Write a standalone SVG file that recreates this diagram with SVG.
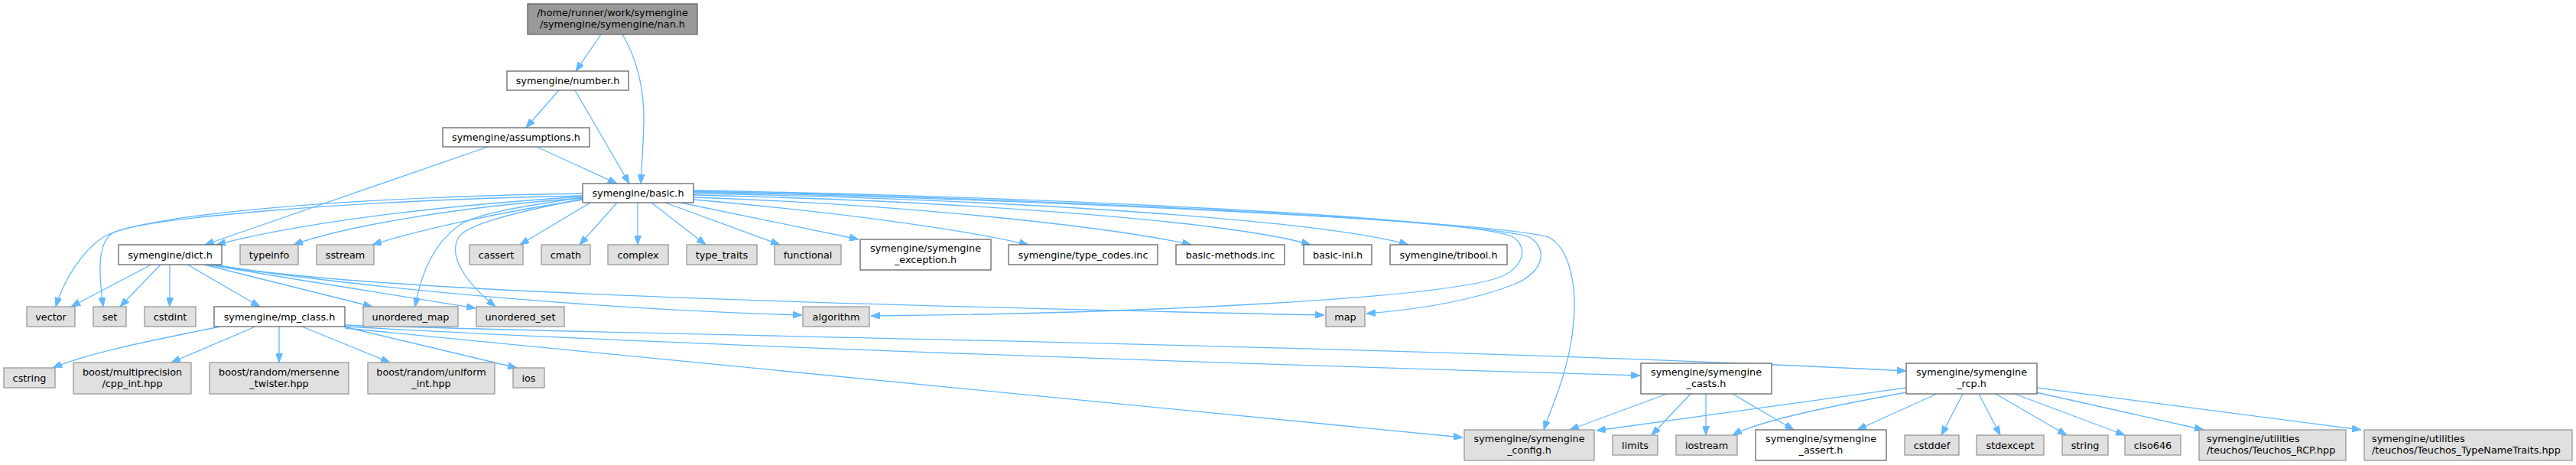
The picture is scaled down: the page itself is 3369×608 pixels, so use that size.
<svg xmlns="http://www.w3.org/2000/svg" width="3369" height="608" viewBox="0 0 3369 608">
<defs>
<style>
.n rect{fill:#ffffff;stroke:#666666;stroke-width:1.3}
.g rect{fill:#e0e0e0;stroke:#999999;stroke-width:1.3}
.r rect{fill:#999999;stroke:#666666;stroke-width:1.3}
text{font-family:"DejaVu Sans","Liberation Sans",sans-serif;font-size:12.8px;fill:#000000;text-anchor:middle}
text.l{text-anchor:start}
#edges path{fill:none;stroke:#63b8ff;stroke-width:1.3;marker-end:url(#arr)}
</style>
<marker id="arr" markerUnits="userSpaceOnUse" markerWidth="12" markerHeight="9" refX="12" refY="4.5" orient="auto">
<path d="M0,0 L12,4.5 L0,9 z" fill="#63b8ff" stroke="#63b8ff" stroke-width="1"/>
</marker>
</defs>
<rect width="3369" height="608" fill="#ffffff"/>
<g id="edges">
<path d="M786,45 L753,93"/>
<path d="M814,45 C832,75 843,115 842,160 C841,195 839,220 838,240"/>
<path d="M731,118 L688,167"/>
<path d="M752,118 L823,240"/>
<path d="M638,192 L268,320"/>
<path d="M702,192 L807,240"/>
<path d="M763,257 C560,270 390,292 283,320"/>
<path d="M763,259 C600,270 450,296 384,320"/>
<path d="M763,261 C660,276 550,300 487,320"/>
<path d="M772,265 L680,320"/>
<path d="M807,265 L758,320"/>
<path d="M834,265 L834,320"/>
<path d="M852,265 L923,320"/>
<path d="M870,265 L1020,320"/>
<path d="M890,265 L1123,313"/>
<path d="M907,261 C1100,278 1260,300 1345,320"/>
<path d="M907,258 C1200,268 1460,298 1558,320"/>
<path d="M907,255 C1300,264 1620,292 1714,320"/>
<path d="M907,253 C1350,261 1740,290 1842,320"/>
<path d="M763,253 C450,258 190,280 135,310 C105,330 82,370 73,401"/>
<path d="M763,256 C450,262 200,285 150,303 C128,315 128,350 135,401"/>
<path d="M763,258 C680,270 620,280 600,295 C565,320 550,360 543,401"/>
<path d="M763,260 C660,280 610,295 600,310 C585,335 610,370 648,401"/>
<path d="M907,249 C1400,258 1900,285 1975,308 C2000,320 1995,350 1960,363 C1880,390 1500,410 1139,413"/>
<path d="M907,250 C1400,260 1950,290 2000,310 C2025,325 2020,355 1980,372 C1920,395 1850,405 1787,410"/>
<path d="M907,251 C1400,262 1950,290 2025,310 C2055,325 2062,380 2058,420 C2054,480 2030,530 2019,562"/>
<path d="M198,346 L93,401"/>
<path d="M210,346 L157,401"/>
<path d="M222,346 L222,401"/>
<path d="M245,346 L340,401"/>
<path d="M267,346 L487,401"/>
<path d="M272,346 C400,368 520,386 622,403"/>
<path d="M276,346 C500,380 800,405 1049,412"/>
<path d="M280,346 C450,378 1000,397 1732,412"/>
<path d="M288,427 C200,445 120,460 69,481"/>
<path d="M334,427 L224,474"/>
<path d="M365,427 L365,474"/>
<path d="M395,427 L510,474"/>
<path d="M449,427 L676,481"/>
<path d="M451,429 L1913,572"/>
<path d="M451,427 C900,452 1600,475 2145,491"/>
<path d="M451,425 C900,440 1800,450 2493,485"/>
<path d="M2180,515 L2053,562"/>
<path d="M2211,515 L2160,569"/>
<path d="M2231,515 L2231,569"/>
<path d="M2266,515 L2346,562"/>
<path d="M2493,507 L2088,563"/>
<path d="M2493,513 C2400,530 2300,550 2266,569"/>
<path d="M2533,515 L2429,562"/>
<path d="M2567,515 L2539,569"/>
<path d="M2588,515 L2616,569"/>
<path d="M2610,515 L2703,569"/>
<path d="M2635,515 L2779,569"/>
<path d="M2663,513 L2882,562"/>
<path d="M2664,507 L3088,562"/>
</g>
<g id="nan" class="r"><rect x="690" y="5" width="222" height="40"/><text x="801" y="21">/home/runner/work/symengine</text><text x="801" y="36">/symengine/symengine/nan.h</text></g>
<g id="number" class="n"><rect x="663" y="93" width="159" height="25"/><text x="742.5" y="110">symengine/number.h</text></g>
<g id="assumptions" class="n"><rect x="579" y="167" width="192" height="25"/><text x="675" y="184">symengine/assumptions.h</text></g>
<g id="basic" class="n"><rect x="762" y="240" width="145" height="25"/><text x="834.5" y="257">symengine/basic.h</text></g>
<g id="dict" class="n"><rect x="155" y="320" width="135" height="26"/><text x="222.5" y="337.5">symengine/dict.h</text></g>
<g id="typeinfo" class="g"><rect x="314" y="320" width="76" height="26"/><text x="352" y="337.5">typeinfo</text></g>
<g id="sstream" class="g"><rect x="414" y="320" width="75" height="26"/><text x="451.5" y="337.5">sstream</text></g>
<g id="cassert" class="g"><rect x="614" y="320" width="70" height="26"/><text x="649" y="337.5">cassert</text></g>
<g id="cmath" class="g"><rect x="708" y="320" width="64" height="26"/><text x="740" y="337.5">cmath</text></g>
<g id="complex" class="g"><rect x="795" y="320" width="79" height="26"/><text x="834.5" y="337.5">complex</text></g>
<g id="type_traits" class="g"><rect x="898" y="320" width="92" height="26"/><text x="944" y="337.5">type_traits</text></g>
<g id="functional" class="g"><rect x="1013" y="320" width="87" height="26"/><text x="1056.5" y="337.5">functional</text></g>
<g id="exception" class="n"><rect x="1125" y="313" width="171" height="40"/><text x="1210.5" y="329">symengine/symengine</text><text x="1210.5" y="344">_exception.h</text></g>
<g id="type_codes" class="n"><rect x="1319" y="320" width="195" height="26"/><text x="1416.5" y="337.5">symengine/type_codes.inc</text></g>
<g id="basic_methods" class="n"><rect x="1538" y="320" width="142" height="26"/><text x="1609" y="337.5">basic-methods.inc</text></g>
<g id="basic_inl" class="n"><rect x="1705" y="320" width="89" height="26"/><text x="1749.5" y="337.5">basic-inl.h</text></g>
<g id="tribool" class="n"><rect x="1818" y="320" width="153" height="26"/><text x="1894.5" y="337.5">symengine/tribool.h</text></g>
<g id="vector" class="g"><rect x="35" y="401" width="63" height="26"/><text x="66.5" y="418.5">vector</text></g>
<g id="set" class="g"><rect x="122" y="401" width="43" height="26"/><text x="143.5" y="418.5">set</text></g>
<g id="cstdint" class="g"><rect x="189" y="401" width="67" height="26"/><text x="222.5" y="418.5">cstdint</text></g>
<g id="mp_class" class="n"><rect x="280" y="401" width="171" height="26"/><text x="365.5" y="418.5">symengine/mp_class.h</text></g>
<g id="unordered_map" class="g"><rect x="475" y="401" width="124" height="26"/><text x="537" y="418.5">unordered_map</text></g>
<g id="unordered_set" class="g"><rect x="623" y="401" width="115" height="26"/><text x="680.5" y="418.5">unordered_set</text></g>
<g id="algorithm" class="g"><rect x="1050" y="401" width="87" height="26"/><text x="1093.5" y="418.5">algorithm</text></g>
<g id="map" class="g"><rect x="1734" y="401" width="51" height="26"/><text x="1759.5" y="418.5">map</text></g>
<g id="cstring" class="g"><rect x="5" y="481" width="67" height="26"/><text x="38.5" y="498.5">cstring</text></g>
<g id="cpp_int" class="g"><rect x="96" y="474" width="154" height="41"/><text x="173" y="491">boost/multiprecision</text><text x="173" y="506">/cpp_int.hpp</text></g>
<g id="mersenne" class="g"><rect x="274" y="474" width="182" height="41"/><text x="365" y="491">boost/random/mersenne</text><text x="365" y="506">_twister.hpp</text></g>
<g id="uniform_int" class="g"><rect x="481" y="474" width="166" height="41"/><text x="564" y="491">boost/random/uniform</text><text x="564" y="506">_int.hpp</text></g>
<g id="ios" class="g"><rect x="671" y="481" width="41" height="26"/><text x="691.5" y="498.5">ios</text></g>
<g id="casts" class="n"><rect x="2146" y="475" width="171" height="40"/><text x="2231.5" y="491">symengine/symengine</text><text x="2231.5" y="506">_casts.h</text></g>
<g id="rcp" class="n"><rect x="2493" y="475" width="171" height="40"/><text x="2578.5" y="491">symengine/symengine</text><text x="2578.5" y="506">_rcp.h</text></g>
<g id="config" class="g"><rect x="1915" y="562" width="170" height="40"/><text x="2000" y="578">symengine/symengine</text><text x="2000" y="593">_config.h</text></g>
<g id="limits" class="g"><rect x="2109" y="569" width="59" height="26"/><text x="2138.5" y="586.5">limits</text></g>
<g id="iostream" class="g"><rect x="2192" y="569" width="80" height="26"/><text x="2232" y="586.5">iostream</text></g>
<g id="assert" class="n"><rect x="2296" y="562" width="171" height="40"/><text x="2381.5" y="578">symengine/symengine</text><text x="2381.5" y="593">_assert.h</text></g>
<g id="cstddef" class="g"><rect x="2491" y="569" width="71" height="26"/><text x="2526.5" y="586.5">cstddef</text></g>
<g id="stdexcept" class="g"><rect x="2585" y="569" width="88" height="26"/><text x="2629" y="586.5">stdexcept</text></g>
<g id="string" class="g"><rect x="2697" y="569" width="60" height="26"/><text x="2727" y="586.5">string</text></g>
<g id="ciso646" class="g"><rect x="2779" y="569" width="73" height="26"/><text x="2815.5" y="586.5">ciso646</text></g>
<g id="teuchos_rcp" class="g"><rect x="2876" y="562" width="192" height="40"/><text class="l" x="2886" y="578">symengine/utilities</text><text class="l" x="2886" y="593">/teuchos/Teuchos_RCP.hpp</text></g>
<g id="teuchos_tnt" class="g"><rect x="3092" y="562" width="272" height="40"/><text class="l" x="3102" y="578">symengine/utilities</text><text class="l" x="3102" y="593">/teuchos/Teuchos_TypeNameTraits.hpp</text></g>
</svg>
